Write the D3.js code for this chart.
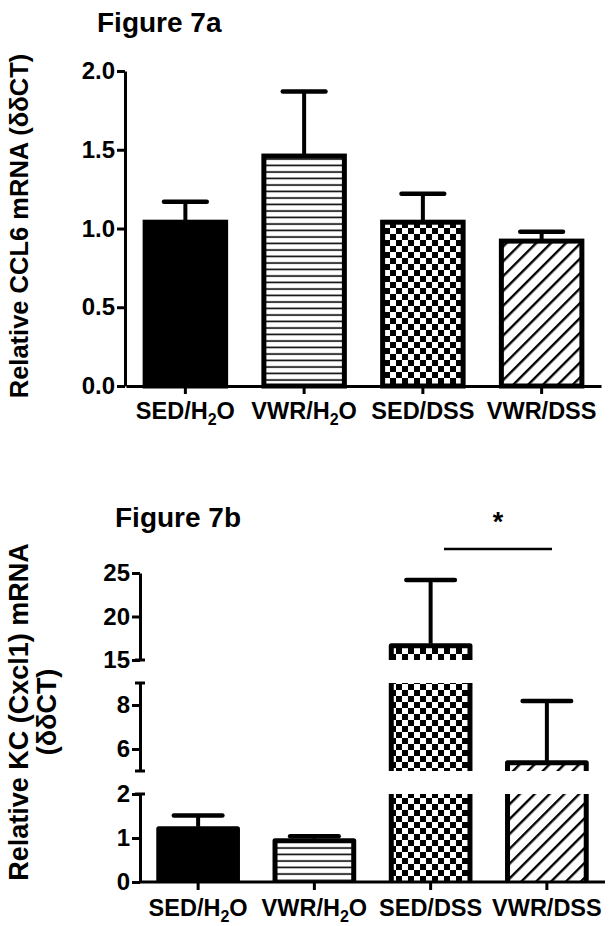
<!DOCTYPE html>
<html>
<head>
<meta charset="utf-8">
<script src="https://cdn.jsdelivr.net/npm/d3@7"></script>
<style>
  body { margin: 0; background: #fff; }
  text { font-family: "Liberation Sans", Arial, sans-serif; font-weight: bold; fill: #000; }
</style>
</head>
<body>
<div id="chart"></div>
<script>
// groups on the x axis (sub = subscript part)
let groups = ['SED/H2O', 'VWR/H2O', 'SED/DSS', 'VWR/DSS'];
let groupLabels = [['SED/H', '2', 'O'], ['VWR/H', '2', 'O'], ['SED/DSS', '', ''], ['VWR/DSS', '', '']];
let fills = ['solid', 'hlines', 'checker', 'diag'];

// Figure 7a: CCL6
let ccl6Mean = [1.04, 1.46, 1.04, 0.92];
let ccl6Err = [0.13, 0.41, 0.18, 0.06];
let ccl6Ticks = [0, 0.5, 1.0, 1.5, 2.0];

// Figure 7b: KC (Cxcl1), broken axis
let kcMean = [1.21, 0.94, 16.65, 5.37];
let kcErr = [0.30, 0.10, 7.55, 2.81];
let kcSegDomains = [[0, 2], [5, 9], [15, 25]];
let kcSegTicks = [[0, 1, 2], [6, 8], [15, 20, 25]];

let width = 612;
let height = 926;

let svg = d3.select('#chart')
            .append('svg')
            .attr('width', width)
            .attr('height', height);

svg.append('rect').attr('width', width).attr('height', height).attr('fill', '#fff');

// patterns
let defs = svg.append('defs');
let hl = defs.append('pattern').attr('id', 'hlines')
             .attr('patternUnits', 'userSpaceOnUse')
             .attr('width', 10).attr('height', 6.5);
hl.append('rect').attr('width', 10).attr('height', 6.5).attr('fill', '#fff');
hl.append('line').attr('x1', 0).attr('x2', 10).attr('y1', 3).attr('y2', 3)
  .attr('stroke', '#000').attr('stroke-width', 1.6);

let ck = defs.append('pattern').attr('id', 'checker')
             .attr('patternUnits', 'userSpaceOnUse')
             .attr('width', 12).attr('height', 12);
ck.append('rect').attr('width', 12).attr('height', 12).attr('fill', '#fff');
ck.append('rect').attr('width', 6).attr('height', 6).attr('fill', '#000');
ck.append('rect').attr('x', 6).attr('y', 6).attr('width', 6).attr('height', 6).attr('fill', '#000');

let dg = defs.append('pattern').attr('id', 'diag')
             .attr('patternUnits', 'userSpaceOnUse')
             .attr('width', 10.5).attr('height', 10.5)
             .attr('patternTransform', 'rotate(45)');
dg.append('rect').attr('width', 10.5).attr('height', 10.5).attr('fill', '#fff');
dg.append('line').attr('x1', 5).attr('x2', 5).attr('y1', 0).attr('y2', 10.5)
  .attr('stroke', '#000').attr('stroke-width', 2.4);

function fillOf(i) {
  return fills[i] === 'solid' ? '#000' : `url(#${fills[i]})`;
}

function xLabels(g, x, y0) {
  let t = g.selectAll('.xlab')
           .data(groups)
           .enter().append('text')
           .attr('class', 'xlab')
           .attr('text-anchor', 'middle')
           .attr('x', d => x(d) + x.bandwidth() / 2)
           .attr('y', y0)
           .style('font-size', '23.5px');
  t.each(function(d, i) {
    let parts = groupLabels[i];
    let el = d3.select(this);
    el.append('tspan').text(parts[0]);
    if (parts[1]) {
      el.append('tspan').attr('dy', 6).style('font-size', '16px').text(parts[1]);
      el.append('tspan').attr('dy', -6).text(parts[2]);
    }
  });
}

function styleAxis(g) {
  g.selectAll('path.domain').attr('stroke-width', 3).attr('stroke', '#000');
  g.selectAll('.tick line').attr('stroke-width', 3).attr('stroke', '#000');
  g.selectAll('.tick text').style('font-size', '24px').attr('font-family', null).attr('fill', '#000');
}

function errorBar(g, cx, capW, yBase, yTop) {
  g.append('line').attr('x1', cx).attr('x2', cx).attr('y1', yBase).attr('y2', yTop)
   .attr('stroke', '#000').attr('stroke-width', 4);
  g.append('line').attr('x1', cx - capW / 2).attr('x2', cx + capW / 2).attr('y1', yTop).attr('y2', yTop)
   .attr('stroke', '#000').attr('stroke-width', 4.5).attr('stroke-linecap', 'round');
}

// ---------------- Figure 7a ----------------
let gA = svg.append('g');

gA.append('text').attr('x', 97).attr('y', 32).style('font-size', '28px').text('Figure 7a');

let xA = d3.scaleBand().domain(groups).range([126, 601]).paddingInner(0.28).paddingOuter(0.14);
let yA = d3.scaleLinear().domain([0, 2]).range([386, 71]);

// bars
gA.selectAll('.barA')
  .data(ccl6Mean)
  .enter().append('rect')
  .attr('class', 'barA')
  .attr('x', (d, i) => xA(groups[i]) + 2.5)
  .attr('width', xA.bandwidth() - 5)
  .attr('y', d => yA(d))
  .attr('height', d => yA(0) - yA(d))
  .attr('fill', (d, i) => fillOf(i))
  .attr('stroke', '#000')
  .attr('stroke-width', 5);

ccl6Mean.forEach((m, i) => {
  errorBar(gA, xA(groups[i]) + xA.bandwidth() / 2, xA.bandwidth() * 0.5, yA(m) - 2, yA(m + ccl6Err[i]));
});

let yAxisA = gA.append('g')
               .attr('transform', 'translate(125,0)')
               .call(d3.axisLeft(yA).tickValues(ccl6Ticks).tickFormat(d3.format('.1f')).tickSize(8).tickSizeOuter(0).tickPadding(2));
styleAxis(yAxisA);

let xAxisA = gA.append('g')
               .attr('transform', 'translate(0,386)')
               .call(d3.axisBottom(xA).tickFormat('').tickSize(8).tickSizeOuter(0));
styleAxis(xAxisA);
xLabels(gA, xA, 419);

gA.append('text')
  .attr('transform', `translate(28,226) rotate(-90)`)
  .attr('text-anchor', 'middle')
  .style('font-size', '25.5px')
  .text('Relative CCL6 mRNA (δδCT)');

// ---------------- Figure 7b ----------------
let gB = svg.append('g');

gB.append('text').attr('x', 115).attr('y', 527).style('font-size', '28px').text('Figure 7b');

let xB = d3.scaleBand().domain(groups).range([140, 605]).paddingInner(0.28).paddingOuter(0.14);
let segRanges = [[882, 794], [771, 683], [660, 573]];
let ySegs = kcSegDomains.map((dom, k) => d3.scaleLinear().domain(dom).range(segRanges[k]));

function segOf(v) {
  for (let k = kcSegDomains.length - 1; k >= 0; k--) {
    if (v >= kcSegDomains[k][0]) return k;
  }
  return 0;
}

// bars, drawn piece by piece in each axis segment
kcMean.forEach((m, i) => {
  let x0 = xB(groups[i]) + 2.5;
  let x1 = xB(groups[i]) + xB.bandwidth() - 2.5;
  ySegs.forEach((ys, k) => {
    let dom = kcSegDomains[k];
    if (m <= dom[0]) return;
    let top = Math.min(m, dom[1]);
    let yb = ys(dom[0]);
    let yt = ys(top);
    gB.append('rect')
      .attr('x', x0).attr('width', x1 - x0)
      .attr('y', yt).attr('height', yb - yt)
      .attr('fill', fillOf(i));
    let p = d3.path();
    p.moveTo(x0, yb);
    p.lineTo(x0, yt);
    if (m <= dom[1]) {
      p.lineTo(x1, yt);
    } else {
      p.moveTo(x1, yt);
    }
    p.lineTo(x1, yb);
    gB.append('path')
      .attr('d', p.toString())
      .attr('fill', 'none')
      .attr('stroke', '#000')
      .attr('stroke-width', 5)
      .attr('stroke-linejoin', 'round');
  });
  let k = segOf(m);
  errorBar(gB, xB(groups[i]) + xB.bandwidth() / 2, xB.bandwidth() * 0.58, ySegs[k](m) - 2, ySegs[k](m + kcErr[i]));
});

// y axis segments
ySegs.forEach((ys, k) => {
  let ax = gB.append('g')
             .attr('transform', 'translate(140,0)')
             .call(d3.axisLeft(ys).tickValues(kcSegTicks[k]).tickFormat(d3.format('d')).tickSize(8).tickSizeOuter(0).tickPadding(2));
  styleAxis(ax);
  // break caps at segment ends
  let ends = kcSegDomains[k].filter(v => v !== 0 && v !== 25);
  ends.forEach(v => {
    ax.append('line').attr('x1', -5).attr('x2', 5).attr('y1', ys(v)).attr('y2', ys(v))
      .attr('stroke', '#000').attr('stroke-width', 3);
  });
});

let xAxisB = gB.append('g')
               .attr('transform', 'translate(0,882)')
               .call(d3.axisBottom(xB).tickFormat('').tickSize(8).tickSizeOuter(0));
styleAxis(xAxisB);
xAxisB.select('path.domain').attr('d', 'M140,0H605');
xLabels(gB, xB, 916);

let yLab = gB.append('text')
             .attr('transform', `translate(28,712) rotate(-90)`)
             .attr('text-anchor', 'middle')
             .style('font-size', '27px');
yLab.append('tspan').attr('x', 0).attr('dy', 0).text('Relative KC (Cxcl1) mRNA');
yLab.append('tspan').attr('x', 0).attr('dy', 28).text('(δδCT)');

// significance bracket between SED/DSS and VWR/DSS
gB.append('line').attr('x1', 444).attr('x2', 552).attr('y1', 549).attr('y2', 549)
  .attr('stroke', '#000').attr('stroke-width', 2.5);
gB.append('text').attr('x', 498).attr('y', 531).attr('text-anchor', 'middle')
  .style('font-size', '27px').text('*');
</script>
</body>
</html>
